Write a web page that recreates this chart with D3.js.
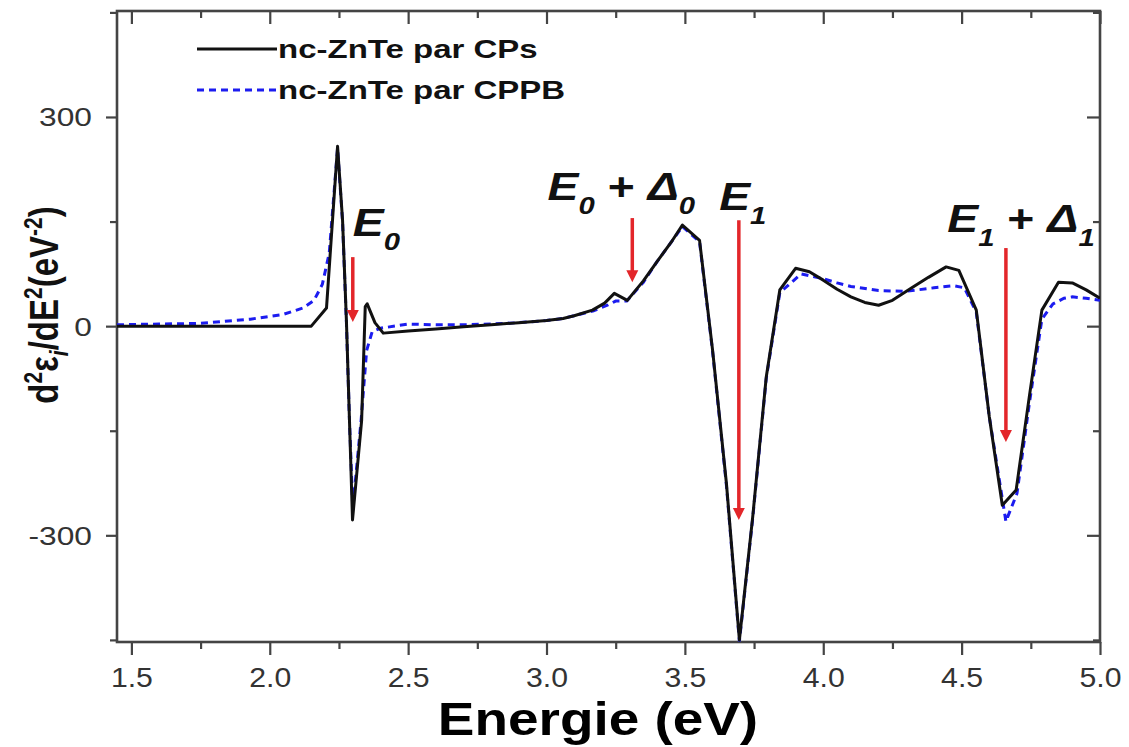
<!DOCTYPE html>
<html><head><meta charset="utf-8">
<script src="https://cdn.jsdelivr.net/npm/d3@7"></script>
<style>body{margin:0;background:#fff}</style>
</head><body><svg id="c" width="1129" height="747"></svg>
<script>
// ---------- data ----------
const energyCPs = [1.448,1.6,1.8,2.0,2.15,2.205,2.245,2.263,2.277,2.288,2.299,2.332,2.345,2.352,2.38,2.41,2.5,2.6,2.7,2.8,2.9,3.0,3.06,3.1,3.166,3.21,3.245,3.292,3.35,3.40,3.45,3.491,3.553,3.60,3.65,3.697,3.745,3.794,3.843,3.90,3.95,4.0,4.05,4.1,4.15,4.2,4.25,4.32,4.38,4.444,4.49,4.553,4.60,4.647,4.697,4.745,4.79,4.85,4.90,4.95,5.0];
const valuesCPs = [0,0,0,0,0,26,258,152,8,-135,-278,-135,28,32,5,-10,-7,-4,-1,2,5,8,11,15,23,33,47,37,65,93,120,145,123,-34,-225,-450,-274,-73,52,83,78,66,53,42,34,30,37,55,70,85,80,23,-130,-257,-235,-100,23,63,62,52,40];
const energyCPPB = [1.448,1.6,1.75,1.93,2.05,2.12,2.16,2.19,2.215,2.245,2.263,2.277,2.288,2.30,2.33,2.35,2.37,2.40,2.5,2.6,2.7,2.8,2.9,3.0,3.06,3.1,3.17,3.22,3.25,3.29,3.35,3.40,3.45,3.491,3.553,3.60,3.65,3.697,3.745,3.794,3.843,3.92,4.0,4.05,4.1,4.2,4.3,4.4,4.47,4.51,4.553,4.60,4.66,4.70,4.745,4.79,4.83,4.87,4.90,4.95,5.0];
const valuesCPPB = [2,3,4,10,17,26,37,60,105,255,150,5,-135,-262,-135,-35,-8,-3,3,2,2,3,5,8,11,15,22,30,36,36,63,93,120,143,121,-36,-228,-452,-276,-75,48,75,68,62,57,51,50,55,58,55,20,-130,-280,-240,-110,10,32,40,42,40,37];
const seriesNames = ["nc-ZnTe par CPs","nc-ZnTe par CPPB"];
const xTicks = [1.5,2.0,2.5,3.0,3.5,4.0,4.5,5.0];
const xTickLabels = ["1.5","2.0","2.5","3.0","3.5","4.0","4.5","5.0"];
const xMinorTicks = [1.75,2.25,2.75,3.25,3.75,4.25,4.75];
const yTicks = [-300,0,300];
const yTickLabels = ["-300","0","300"];
const yMinorTicks = [-450,-150,150,450];
// annotations (data units)
const arrowEnergies = [2.30,3.31,3.695,4.66];
const arrowStarts = [99,155,152,112];
const arrowEnds = [6,63,-278,-166];
const labelEnergies = [2.30,3.004,3.624,4.448];
const labelValues = [130,181,166,135];
const labelParts = [
  [["E",0],["0",1]],
  [["E",0],["0",1],[" + ",0],["Δ",0],["0",1]],
  [["E",0],["1",1]],
  [["E",0],["1",1],[" + ",0],["Δ",0],["1",1]]
];

// ---------- layout ----------
const L=117,R=1100,T=11,B=642, SX=1.22;
const FONT='"Liberation Sans", Arial, sans-serif';
const svg=d3.select("#c").style("font-family",FONT);
const x=d3.scaleLinear().domain([1.448,5.0]).range([L,R]);
const y=d3.scaleLinear().domain([-453,452]).range([B,T]);

function ax(gen, tr){ const g=svg.append("g").attr("transform",tr).call(gen); g.select(".domain").remove(); g.selectAll("line").attr("stroke","#444").attr("stroke-width",2.2); return g; }
const xb=ax(d3.axisBottom(x).tickValues(xTicks).tickSize(13).tickFormat((d,i)=>xTickLabels[i]),`translate(0,${B})`);
xb.selectAll("text").attr("y",0).attr("dy",0).attr("transform","translate(0,45) scale(1.12,1.05)")
  .attr("font-size",27).attr("fill","#333").attr("font-family",FONT);
ax(d3.axisBottom(x).tickValues(xMinorTicks).tickSize(7).tickFormat(""),`translate(0,${B})`);
ax(d3.axisTop(x).tickValues(xTicks).tickSize(-13).tickFormat(""),`translate(0,${T})`);
ax(d3.axisTop(x).tickValues(xMinorTicks).tickSize(-7).tickFormat(""),`translate(0,${T})`);
const yl=ax(d3.axisLeft(y).tickValues(yTicks).tickSize(11).tickFormat((d,i)=>yTickLabels[i]),`translate(${L},0)`);
yl.selectAll("text").attr("x",0).attr("dy",0).attr("transform","translate(-25,9) scale("+SX+",1)")
  .attr("font-size",26).attr("fill","#333").attr("font-family",FONT);
ax(d3.axisLeft(y).tickValues(yMinorTicks).tickSize(7).tickFormat(""),`translate(${L},0)`);
ax(d3.axisRight(y).tickValues(yTicks).tickSize(-13).tickFormat(""),`translate(${R},0)`);
ax(d3.axisRight(y).tickValues(yMinorTicks).tickSize(-7).tickFormat(""),`translate(${R},0)`);

// frame
svg.append("rect").attr("x",L).attr("y",T).attr("width",R-L).attr("height",B-T)
  .attr("fill","none").attr("stroke","#444").attr("stroke-width",2.6);

// curves
const line=d3.line().x(d=>x(d[0])).y(d=>y(d[1]));
svg.append("clipPath").attr("id","cp").append("rect").attr("x",L).attr("y",T).attr("width",R-L).attr("height",B-T);
svg.append("path").datum(energyCPPB.map((e,i)=>[e,valuesCPPB[i]])).attr("d",line)
  .attr("fill","none").attr("stroke","#1c1cf0").attr("stroke-width",3).attr("stroke-dasharray","7,5").attr("clip-path","url(#cp)");
svg.append("path").datum(energyCPs.map((e,i)=>[e,valuesCPs[i]])).attr("d",line)
  .attr("fill","none").attr("stroke","#111").attr("stroke-width",3).attr("stroke-linejoin","round").attr("clip-path","url(#cp)");

// arrows
const RED="#e3262a";
arrowEnergies.forEach((e,i)=>{
  const xa=x(e), y0=y(arrowStarts[i]), y1=y(arrowEnds[i]);
  svg.append("line").attr("x1",xa).attr("x2",xa).attr("y1",y0).attr("y2",y1-8).attr("stroke",RED).attr("stroke-width",3.5);
  svg.append("path").attr("d",`M${xa-6},${y1-12}L${xa+6},${y1-12}L${xa},${y1}Z`).attr("fill",RED);
});

// annotation labels
labelParts.forEach((parts,i)=>{
  const t=svg.append("text").attr("transform",`translate(${x(labelEnergies[i])},${y(labelValues[i])}) scale(${SX},1)`)
    .attr("font-weight","bold").attr("font-style","italic").attr("font-size",38).attr("fill","#111");
  let sub=false;
  parts.forEach(p=>{
    const ts=t.append("tspan").text(p[0]);
    if(p[1]&&!sub){ts.attr("dy",14).attr("font-size",24);sub=true;}
    else if(p[1]){ts.attr("font-size",24);}
    else if(sub){ts.attr("dy",-14);sub=false;}
    if(p[0]===" + ") ts.attr("font-style","normal");
  });
});

// legend
const legY=[49,90];
seriesNames.forEach((n,i)=>{
  svg.append("line").attr("x1",197).attr("x2",277).attr("y1",legY[i]).attr("y2",legY[i])
    .attr("stroke",i?"#1c1cf0":"#111").attr("stroke-width",3).attr("stroke-dasharray",i?"7,5":null);
  svg.append("text").attr("transform",`translate(278,${legY[i]+9}) scale(1.32,1)`)
    .attr("font-size",25).attr("font-weight","bold").attr("fill","#111").text(n);
});

// axis titles
svg.append("text").attr("transform",`translate(598,735) scale(${SX},1.03)`).attr("text-anchor","middle")
  .attr("font-size",45).attr("font-weight","bold").attr("fill","#000").text("Energie (eV)");
const yt=svg.append("text").attr("transform",`translate(58,305) scale(${SX},1) rotate(-90)`).attr("text-anchor","middle")
  .attr("font-size",33).attr("font-weight","bold").attr("fill","#111");
yt.append("tspan").text("d");
yt.append("tspan").text("2").attr("font-size",21).attr("dy",-13);
yt.append("tspan").text("ε").attr("dy",13);
yt.append("tspan").text("i").attr("font-size",21).attr("font-style","italic").attr("dy",8);
yt.append("tspan").text("/dE").attr("dy",-8);
yt.append("tspan").text("2").attr("font-size",21).attr("dy",-13);
yt.append("tspan").text("(eV").attr("dy",13);
yt.append("tspan").text("-2").attr("font-size",21).attr("dy",-13);
yt.append("tspan").text(")").attr("dy",13);
</script></body></html>
